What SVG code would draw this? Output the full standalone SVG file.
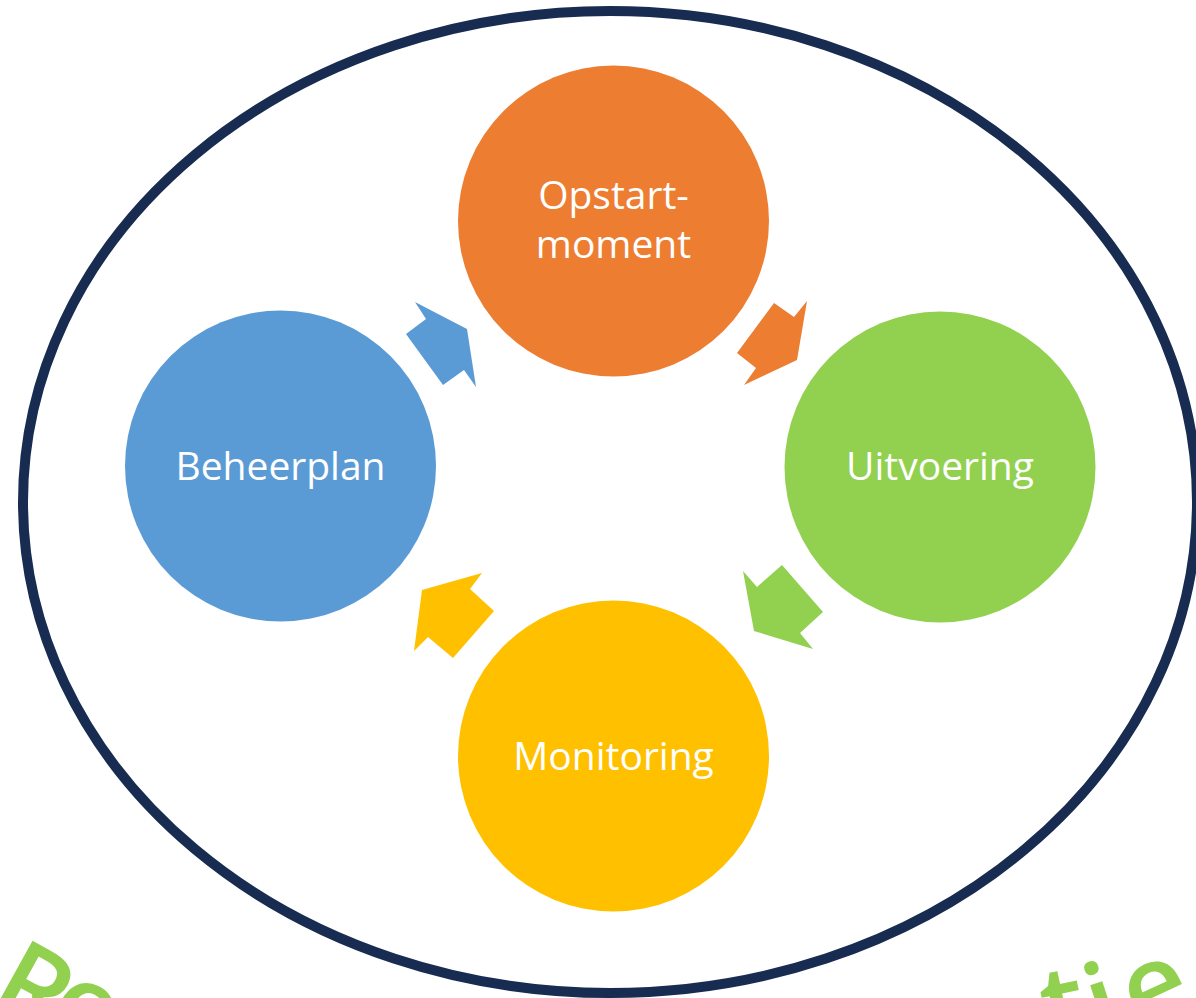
<svg xmlns="http://www.w3.org/2000/svg" width="1196" height="998" viewBox="0 0 1196 998">
<style>
.lbl{font-family:"Open Sans","Noto Sans","DejaVu Sans",sans-serif;font-size:39px;fill:#FFFFFF;text-anchor:middle}
.word{font-family:"Open Sans","Noto Sans","DejaVu Sans",sans-serif;font-size:110px;font-weight:600;fill:#92D050}
</style>
<rect width="1196" height="998" fill="#FFFFFF"/>
<ellipse id="frame" cx="610" cy="502" rx="587" ry="491" fill="none" stroke="#182C51" stroke-width="10"/>
<g id="connectors">
<polygon id="arrow-blue" fill="#5B9BD5" points="415,302 467,329 476,387 464,370 443,385 406,334 426,319"/>
<polygon id="arrow-orange" fill="#ED7D31" points="774,303 794,317 807,301 797,360 744,385 756,368 737,353"/>
<polygon id="arrow-green" fill="#92D050" points="743,571 757,587 782,565 823,612 800,633 813,649 754,631"/>
<polygon id="arrow-yellow" fill="#FFC000" points="482,573 470,589 494,611 453,658 428,637 414,651 422,590"/>
</g>
<g id="opstart">
<circle cx="613.5" cy="221" r="155.5" fill="#ED7D31"/>
<text class="lbl" x="613.5" y="209">Opstart-</text>
<text class="lbl" x="613.5" y="258">moment</text>
</g>
<g id="beheerplan">
<circle cx="280.5" cy="466" r="155.5" fill="#5B9BD5"/>
<text class="lbl" x="280.5" y="480">Beheerplan</text>
</g>
<g id="uitvoering">
<circle cx="940" cy="467" r="155.5" fill="#92D050"/>
<text class="lbl" x="940" y="480">Uitvoering</text>
</g>
<g id="monitoring">
<circle cx="613.5" cy="756" r="155.5" fill="#FFC000"/>
<text class="lbl" x="613.5" y="770">Monitoring</text>
</g>
<g id="wordart">
<text class="word" x="-14.5 43" y="1004.5 1027" rotate="29 25">Re</text>
<text class="word" x="1050 1100 1140.5" y="1047 1044.5 1033" rotate="-12 -18 -25">tie</text>
</g>
</svg>
